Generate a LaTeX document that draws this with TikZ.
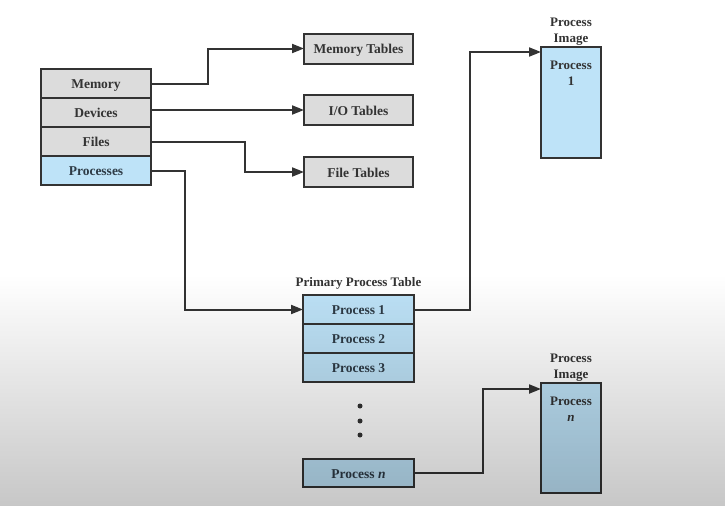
\documentclass[tikz,border=0pt]{standalone}
\usepackage{fontspec}
\setmainfont{Liberation Serif}
\usetikzlibrary{arrows.meta,positioning,fadings}
\definecolor{ink}{HTML}{333333}
\definecolor{slate}{HTML}{2E3B46}
\definecolor{cellgray}{HTML}{DCDCDC}
\definecolor{cellblue}{HTML}{BEE3F8}

\begin{document}
\begin{tikzpicture}[x=1pt,y=-1pt,cell/.style={draw=ink,line width=2pt,fill=cellgray,minimum width=110pt,minimum height=29pt,inner sep=0pt,outer sep=0pt,text height=11pt,text depth=1pt,font=\fontsize{13.5}{15}\selectfont\bfseries,text=ink},bluecell/.style={cell,fill=cellblue,text=slate},imgbox/.style={draw=ink,line width=2pt,fill=cellblue,minimum width=60pt,minimum height=111pt,inner sep=0pt,outer sep=0pt},caption/.style={font=\fontsize{13}{16}\selectfont\bfseries,text=ink,align=center,inner sep=0pt},link/.style={-{Triangle[length=12pt,width=9pt]},line width=2pt,ink}]
 \useasboundingbox (0,0) rectangle (726,506);
 \fill[white] (0,0) rectangle (726,506);
 % resource tables
 \node[cell] (memory) at (96,83.5) {Memory};
 \node[cell,below=0pt of memory] (devices) {Devices};
 \node[cell,below=0pt of devices] (files) {Files};
 \node[bluecell,below=0pt of files] (processes) {Processes};
 \node[cell,minimum width=109pt,minimum height=30pt] (memtab) at (358.5,48.5) {Memory Tables};
 \node[cell,minimum width=109pt,minimum height=30pt] (iotab) at (358.5,110) {I/O Tables};
 \node[cell,minimum width=109pt,minimum height=30pt] (filetab) at (358.5,172) {File Tables};
 \draw[link] (memory.east) -- ++(57,0) |- (memtab.west);
 \draw[link] (iotab.west -| devices.east) -- (iotab.west);
 \draw[link] (files.east) -- ++(94,0) |- (filetab.west);
 % primary process table
 \node[bluecell,minimum width=111pt] (proc1) at (358.5,309.5) {Process 1};
 \node[bluecell,minimum width=111pt,below=0pt of proc1] (proc2) {Process 2};
 \node[bluecell,minimum width=111pt,below=0pt of proc2] (proc3) {Process 3};
 \node[caption,above=5pt of proc1] (ptab) {Primary Process Table};
 \foreach \y in {406,421,435} \fill[ink] (360,\y) circle (2.5pt);
 \node[bluecell,minimum width=111pt,minimum height=28pt] (procn) at (358.5,473) {Process \textit{n}};
 \draw[link] (processes.east) -- ++(34,0) |- (proc1.west);
 % process images
 \node[imgbox] (img1) at (571,102.5) {};
 \node[caption,below=14pt of img1.north] (img1txt) {Process\\1};
 \node[caption,above=1pt of img1] (img1cap) {Process\\Image};
 \node[imgbox,minimum height=110pt] (imgn) at (571,438) {};
 \node[caption,below=14pt of imgn.north] (imgntxt) {Process\\\textit{n}};
 \node[caption,above=1pt of imgn] (imgncap) {Process\\Image};
 \draw[link] (proc1.east) -- ++(56,0) |- ([yshift=-5pt]img1.north west);
 \draw[link] (procn.east) -- ++(69,0) |- ([yshift=-6pt]imgn.north west);
 % screen fade
 \fill[black,opacity=.22,path fading=north] (0,275) rectangle (726,506);
\end{tikzpicture}
\end{document}
